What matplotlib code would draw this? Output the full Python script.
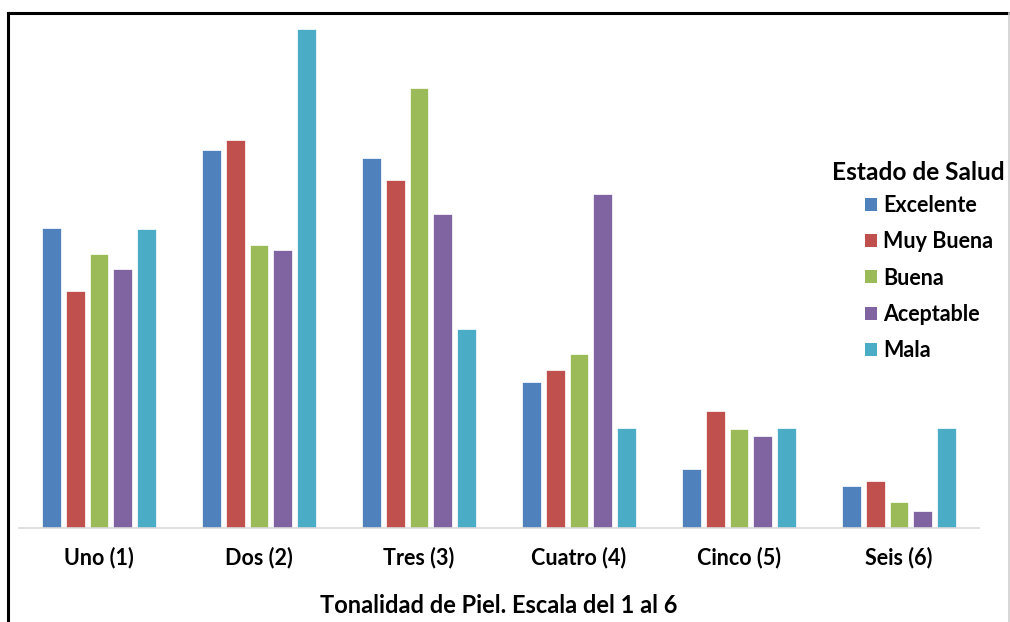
import numpy as np
import matplotlib
matplotlib.use("Agg")
import matplotlib.pyplot as plt
from matplotlib.lines import Line2D
from matplotlib.patches import Patch

# percentage of each health state per skin tone (each series sums ~100)
categorias = ["Uno (1)", "Dos (2)", "Tres (3)", "Cuatro (4)", "Cinco (5)", "Seis (6)"]
excelente = [23.2, 29.2, 28.6, 11.3, 4.5, 3.2]
muy_buena = [18.3, 30.0, 26.9, 12.2, 9.0, 3.6]
buena = [21.2, 21.9, 34.0, 13.4, 7.6, 2.0]
aceptable = [20.0, 21.5, 24.3, 25.8, 7.1, 1.3]
mala = [23.1, 38.6, 15.4, 7.7, 7.7, 7.7]

series = ["Excelente", "Muy Buena", "Buena", "Aceptable", "Mala"]
colores = ["#4F81BD", "#C0504D", "#9BBB59", "#8064A2", "#4BACC6"]

plt.rcParams['font.family'] = ['Lato', 'DejaVu Sans']
plt.rcParams['font.weight'] = 'bold'

W, H = 1010, 622
fig = plt.figure(figsize=(W/100, H/100), dpi=100)
ax = fig.add_axes([19/W, (H-527.5)/H, 960/W, (527.5-20)/H])

x = np.arange(len(categorias))
paso = 0.148
ancho = 0.117
datos = [excelente, muy_buena, buena, aceptable, mala]
for i, (vals, col) in enumerate(zip(datos, colores)):
    ax.bar(x + (i - 2) * paso, vals, width=ancho, color=col,
           edgecolor='white', linewidth=0.5, label=series[i])

ax.set_xlim(-0.5, 5.5)
ax.set_ylim(0, 39.3)
ax.set_yticks([])
ax.set_xticks(x)
ax.set_xticklabels(categorias, fontsize=15.5, fontweight='bold')
ax.tick_params(axis='x', length=0, pad=14)
for s in ['top', 'left', 'right']:
    ax.spines[s].set_visible(False)
ax.spines['bottom'].set_color('#D9D9D9')
ax.spines['bottom'].set_linewidth(1.2)

ax.set_xlabel("Tonalidad de Piel. Escala del 1 al 6", fontsize=17,
              fontweight='bold', labelpad=18.5)

# legend: title as separate text so it can sit left of the entries
fig.text(832/W, 1 - 172/H, "Estado de Salud", fontsize=17.6, fontweight='bold',
         ha='left', va='center')
handles = [Patch(facecolor=c, edgecolor='none') for c in colores]
leg = fig.legend(handles, series, loc='upper left',
                 bbox_to_anchor=(865/W, 1 - 195/H),
                 frameon=False, fontsize=15.5, borderpad=0, borderaxespad=0,
                 handlelength=0.55, handleheight=0.55, handletextpad=0.3,
                 labelspacing=0.71)

# outer frame
fig.add_artist(Line2D([8/W, 1009/W], [1 - 13/H, 1 - 13/H],
                      transform=fig.transFigure, color='black', linewidth=2.2))
fig.add_artist(Line2D([8/W, 8/W], [1 - 13/H, 0],
                      transform=fig.transFigure, color='black', linewidth=2.2))
fig.add_artist(Line2D([1008.5/W, 1008.5/W], [1 - 13/H, 0],
                      transform=fig.transFigure, color='#D0D0D0', linewidth=1.2))

fig.savefig("out.png", dpi=100)
